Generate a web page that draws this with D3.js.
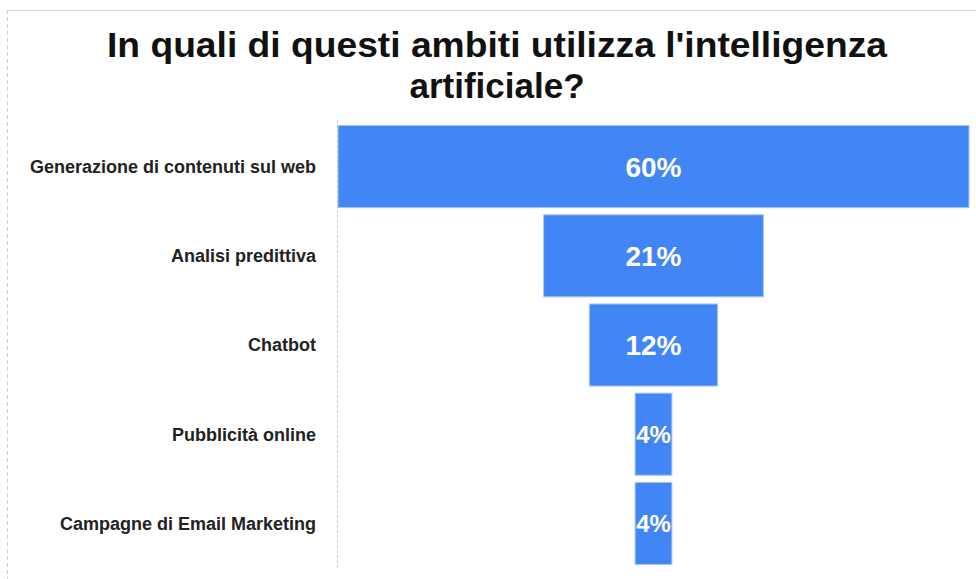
<!DOCTYPE html>
<html>
<head>
<meta charset="utf-8">
<script src="https://cdn.jsdelivr.net/npm/d3@7"></script>
<style>
  body { margin: 0; background: #fff; }
  text { font-family: "Liberation Sans", Arial, sans-serif; }
</style>
</head>
<body>
<div id="chart"></div>
<script>
const titleLines = ["In quali di questi ambiti utilizza l'intelligenza", "artificiale?"];
const categories = [
  "Generazione di contenuti sul web",
  "Analisi predittiva",
  "Chatbot",
  "Pubblicità online",
  "Campagne di Email Marketing"
];
const values = [60, 20.9, 12.2, 3.5, 3.5];
const valueLabels = ["60%", "21%", "12%", "4%", "4%"];

const width = 976, height = 579;
const axisX = 337;
const centerX = 653.5;

const svg = d3.select('#chart')
  .append('svg')
  .attr('width', width)
  .attr('height', height);

// frame lines
svg.append('line')
  .attr('x1', 6).attr('x2', width).attr('y1', 10.5).attr('y2', 10.5)
  .attr('stroke', '#d9d9d9');
svg.append('line')
  .attr('x1', 7.5).attr('x2', 7.5).attr('y1', 10).attr('y2', height)
  .attr('stroke', '#cfcfcf').attr('stroke-dasharray', '4,3');

// title
svg.append('text')
  .attr('x', 497)
  .attr('y', 57)
  .attr('text-anchor', 'middle')
  .style('font-size', '35px')
  .style('font-weight', 'bold')
  .style('fill', '#111')
  .selectAll('tspan')
  .data(titleLines)
  .enter()
  .append('tspan')
  .attr('x', 497)
  .attr('dy', (d, i) => i == 0 ? 0 : 41)
  .attr('textLength', (d, i) => i == 0 ? 780 : null)
  .attr('lengthAdjust', 'spacingAndGlyphs')
  .text(d => d);

const yScale = d3.scaleBand()
  .domain(categories)
  .range([122, 568])
  .paddingInner(0.08)
  .paddingOuter(0.04);

const wScale = d3.scaleLinear()
  .domain([0, 60])
  .range([0, 631]);

// vertical axis line
svg.append('line')
  .attr('x1', axisX + 0.5).attr('x2', axisX + 0.5)
  .attr('y1', 120).attr('y2', 568)
  .attr('stroke', '#cccccc').attr('stroke-dasharray', '3,2');

svg.selectAll('.bar')
  .data(categories)
  .enter()
  .append('rect')
  .attr('class', 'bar')
  .attr('x', (d, i) => centerX - wScale(values[i]) / 2)
  .attr('y', d => yScale(d))
  .attr('width', (d, i) => wScale(values[i]))
  .attr('height', yScale.bandwidth())
  .style('fill', '#4285f4')
  .style('stroke', '#a9c6fa')
  .style('stroke-width', 1);

// label shrinks to fit narrow bars
svg.selectAll('.val')
  .data(categories)
  .enter()
  .append('text')
  .attr('class', 'val')
  .attr('x', centerX)
  .attr('y', d => yScale(d) + yScale.bandwidth() / 2)
  .attr('dy', '0.36em')
  .attr('text-anchor', 'middle')
  .style('font-size', (d, i) => Math.min(28, (wScale(values[i]) - 2) / 1.45) + 'px')
  .style('font-weight', 'bold')
  .style('fill', '#fff')
  .text((d, i) => valueLabels[i]);

svg.selectAll('.cat')
  .data(categories)
  .enter()
  .append('text')
  .attr('class', 'cat')
  .attr('x', 316)
  .attr('y', d => yScale(d) + yScale.bandwidth() / 2)
  .attr('dy', '0.36em')
  .attr('text-anchor', 'end')
  .style('font-size', '18px')
  .style('font-weight', 'bold')
  .style('fill', '#222')
  .text(d => d);
</script>
</body>
</html>
